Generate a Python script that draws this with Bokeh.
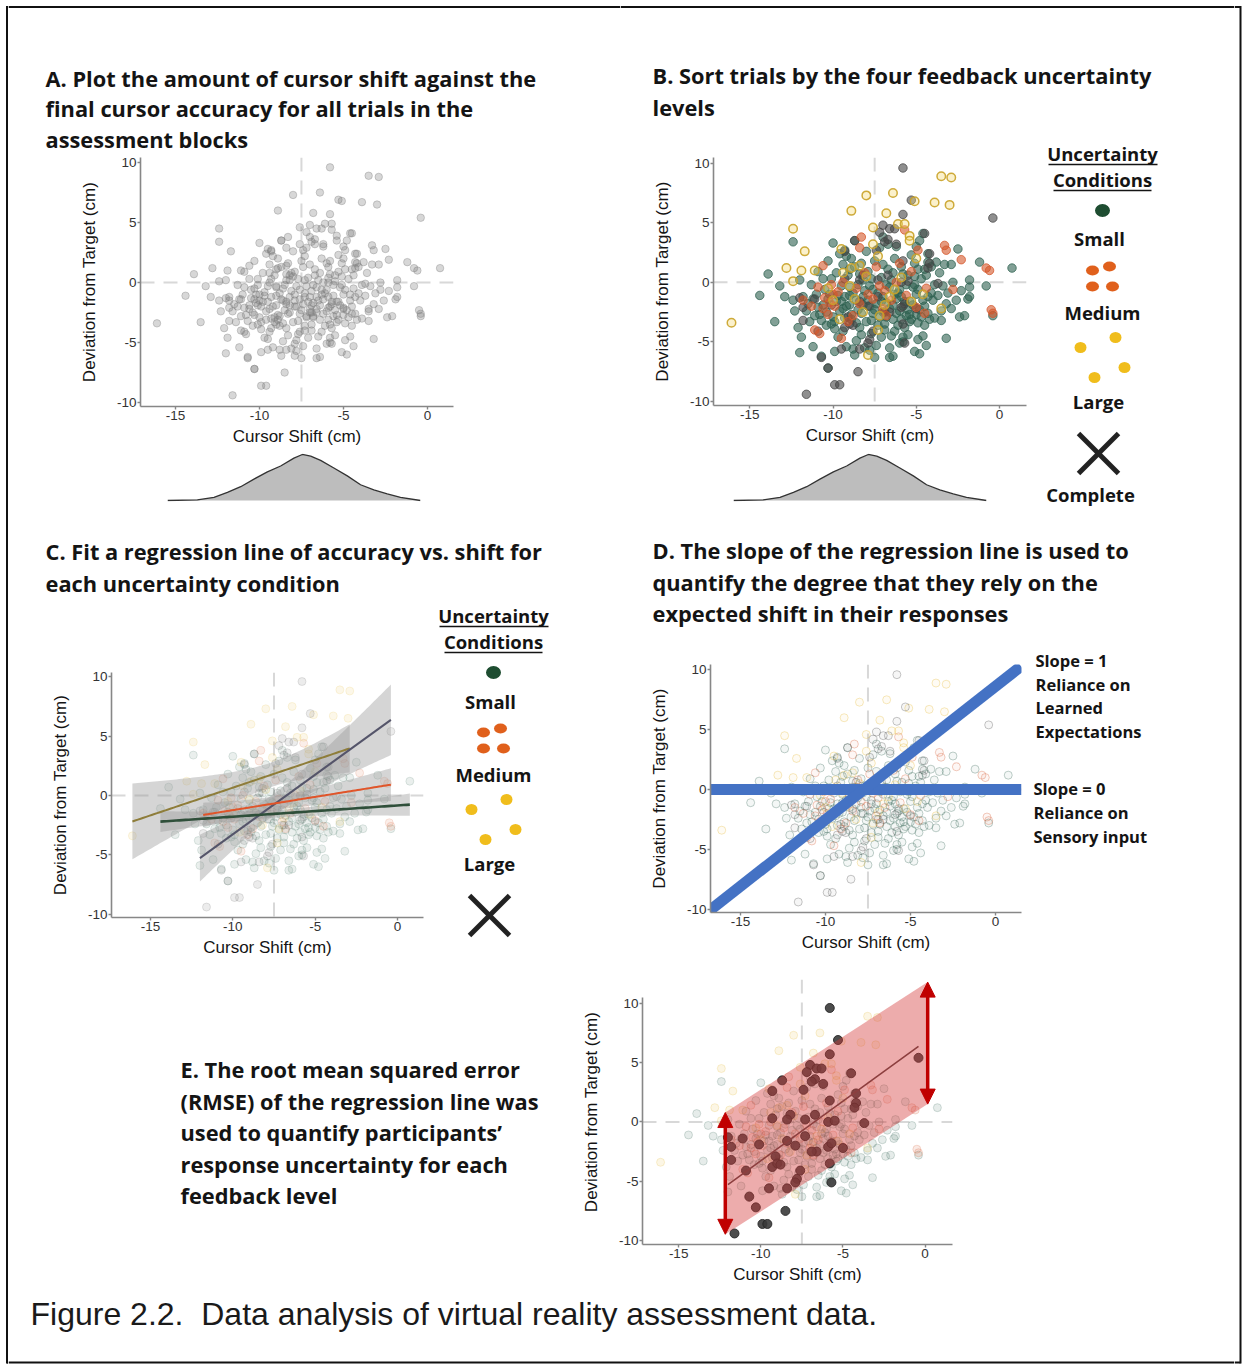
import numpy as np
from bokeh.plotting import figure
from bokeh.layouts import row, column
from bokeh.models import Range1d, Span, Arrow, NormalHead
from bokeh.core.properties import value
from bokeh.embed import file_html
from bokeh.resources import INLINE

# ---------------------------------------------------------------- data
shift_ticks = [-15, -10, -5, 0]
dev_ticks = [-10, -5, 0, 5, 10]
expected_shift = -7.5
zero_dev = 0.0

small_x = [
    -4.6, -8.7, -10.0, -12.4, -7.0, -4.8, -6.7, -2.5, -4.3, -9.3,
    -9.2, -4.3, -3.8, -3.3, -2.9, -1.2, 0.75, -13.9, -12.0, -13.2,
    -14.4, -13.5, -12.9, -12.4, -11.8, -12.3, -11.6, -12.1, -11.4, -11.9,
    -11.2, -12.0, -10.7, -10.3, -7.8, -5.8, -5.8, -5.1, -4.8, -4.4,
    -4.6, -5.4, -4.5, -3.5, -3.2, -2.4, -2.1, -1.8, -1.8, -0.8,
    -0.4, -1.8, -2.8, -3.4, -3.9, -2.3, -3.2, -3.5, -4.0, -2.6,
    -1.9,
    -10.5, -10.2, -9.8, -9.6, -9.3, -9.0, -8.8, -8.6, -8.3, -8.0,
    -7.8, -7.6, -7.4, -7.2, -7.0, -6.8, -6.6, -6.4, -6.2, -6.0,
    -5.8, -5.6, -5.4, -5.2, -5.0, -4.8, -4.6, -10.8, -10.4, -9.9,
    -9.5, -9.1, -8.7, -8.2, -7.9, -7.5, -7.1, -6.7, -6.3, -5.9,
    -5.5, -5.1, -4.7, -10.1, -11.0, -10.6, -9.4, -8.9, -8.4, -7.7,
    -7.3, -6.9, -6.5, -6.1, -5.7, -5.3, -4.9, -9.7, -9.2, -8.6,
    -8.1, -7.4, -6.4, -6.6, -8.7, -9.9, -6.0, -11.3, -10.9, -10.3,
    -9.6, -8.9, -8.0, -7.2, -6.5, -5.3, -4.9, -4.4, -4.1, -4.3,
    -3.9, -3.7, -3.1, -2.9, -3.6, -4.1, -5.0, -6.3, -7.6, -8.5,
    -9.3, -10.0, -10.7, -11.5, -11.1, -8.2, -7.0, -6.0, -5.5, -6.8,
    -7.9, -9.0, -5.9, -8.3, -6.2, -5.0, -9.4,
    -10.3, -9.7, -9.2, -8.9, -8.5, -8.1, -7.7, -7.3, -6.9, -6.6,
    -6.2, -5.9, -5.6, -5.2, -4.9, -4.5, -4.2, -10.9, -10.4, -9.9,
    -9.5, -9.0, -8.6, -8.2, -7.8, -7.5, -7.1, -6.8, -6.4, -6.1,
    -5.7, -5.4, -5.1, -4.7, -4.3, -10.6, -9.8, -9.0, -8.4, -7.7,
    -7.0, -6.4, -5.8, -5.1, -4.5, -11.2, -10.1, -9.4, -8.3, -7.1,
    -6.3, -5.5, -4.9, -8.8, -7.5, -6.6,
]
small_y = [
    4.1, 3.5, 3.3, 3.4, 3.8, 3.5, 3.2, 2.8, 2.4, 2.7,
    2.2, 1.7, 1.7, 1.5, 1.5, 1.7, 1.2, 0.7, 0.2, -0.3,
    -1.1, -3.3, -1.2, -1.5, -1.2, -2.4, -2.4, -3.8, -3.3, -4.6,
    -5.4, -5.9, -6.2, -7.2, -5.7, -4.6, -5.0, -5.8, -6.0, -5.3,
    -4.5, -3.3, -3.6, -3.2, -4.7, -2.9, -2.8, -1.2, -0.4, -0.3,
    -2.8, 0.2, 0.0, -0.3, -0.2, -0.7, -1.8, -2.4, -1.5, -1.5,
    -1.4,
    -0.6, -1.0, -1.6, -2.4, -3.0, -1.9, -0.9, -1.5, -2.6, -3.3,
    -2.0, -0.6, -1.8, -2.9, -1.2, -0.2, -2.2, -3.1, -1.4, -0.6,
    -2.0, -2.8, -1.6, -0.4, -1.0, -2.3, -1.5, -2.7, -3.6, -3.9,
    -0.3, 0.6, 1.3, 0.2, 0.9, 1.8, 0.4, 1.1, 2.0, 1.3,
    0.6, 1.6, 0.3, 0.3, -1.0, -1.9, -2.2, -2.7, -3.8, -4.3,
    -3.6, -4.0, -4.5, -3.6, -3.8, -3.1, -3.4, -4.6, -5.4, -4.9,
    -5.5, -5.3, -6.2, -6.3, -6.1, -5.8, -5.1, -0.2, 0.9, 1.8,
    2.4, 2.0, 2.6, 2.9, 0.2, 2.3, 1.1, 0.6, -0.9, -2.6,
    -3.0, -1.1, -0.9, -2.2, 0.8, 1.3, -2.7, -1.0, -2.6, -0.2,
    -1.2, -2.9, -3.2, -1.8, -2.8, -1.2, -2.5, -2.4, -2.3, -1.7,
    -1.5, -1.1, -1.2, 1.6, 3.0, 3.0, 1.5,
    -1.4, -1.1, -2.0, -3.1, -2.3, -0.7, -3.2, -0.9, -3.5, -0.4,
    -2.6, -3.1, -0.2, -1.9, -0.6, -2.0, -3.1, -2.1, -2.5, -3.3,
    -1.6, -0.4, -3.4, -1.9, -0.3, -2.3, -1.6, -2.9, -1.9, -0.9,
    -1.6, -2.7, -0.2, -2.9, -1.2, 0.3, 0.8, 1.1, 0.7, 0.3,
    1.5, 0.8, 0.7, 0.5, 1.1, -1.4, -3.5, -4.1, -4.4, -4.6,
    -4.1, -4.4, -4.8, -5.6, -6.3, -5.5,
]

medium_x = [
    -8.3, -8.4, -10.6, -9.4, -10.9, -10.5, -10.2, -9.9, -10.6, -10.0,
    -11.1, -10.8, -9.5, -8.8, -8.4, -7.2, -7.6, -6.9, -6.2, -5.6,
    -4.9, -5.0, -4.5, -3.3, -3.2, -2.3, -0.8, -0.6, -0.4, -0.5,
    -2.8, -5.7, -11.8, -9.7, -7.9, -7.0, -6.5, -8.1, -6.0, -5.3,
    -4.4, -9.1, -10.3, -6.8, -7.4, -11.3, -10.1, -8.6,
]
medium_y = [
    3.8, 2.9, 1.4, 0.0, -0.4, -1.3, -1.7, -2.0, -2.2, -1.0,
    -4.0, -4.3, -4.7, -2.8, -1.8, -0.3, -1.4, -0.7, 0.0, -1.1,
    2.7, -2.1, -2.6, 3.1, 2.7, 1.9, 1.2, 1.0, -2.6, -2.3,
    -0.6, 4.4, -1.5, -0.8, -1.0, -2.2, -1.5, 0.8, 1.6, 0.9,
    -0.5, -3.3, -2.7, -2.8, 1.3, -2.0, -0.2, -0.5,
]

large_x = [
    -16.1, -12.4, -11.7, -12.8, -11.9, -11.1, -12.4, -8.9, -8.0, -6.4,
    -6.8, -6.1, -5.7, -5.4, -5.4, -3.5, -2.9, -3.9, -3.0, -5.1,
    -7.6, -7.6, -9.5, -8.9, -8.4, -7.3, -7.9, -7.3, -3.5, -9.0,
    -10.0, -8.0, -6.9, -6.3, -5.0, -6.6, -8.2, -4.6, -9.4, -7.2,
    -5.9, -10.3, -9.6, -8.7, -5.3,
]
large_y = [
    -3.4, 4.5, 2.6, 1.2, 1.0, 1.0, 0.1, 6.0, 7.3, 7.5,
    5.8, 4.9, 4.9, 3.9, 3.5, 8.9, 8.8, 6.7, 6.5, 6.8,
    4.6, 3.2, 2.8, 1.2, 1.4, 2.2, -6.1, -4.0, -2.2, -0.3,
    -1.5, 0.5, -1.9, -0.6, 2.0, -1.2, -2.5, -1.0, 0.8, -2.8,
    0.4, -0.5, -3.1, -1.4, -1.6,
]

complete_x = [
    -5.8, -5.3, -0.4, -5.8, -7.0, -6.6, -6.3, -7.2, -6.7, -6.9,
    -6.2, -4.5, -8.7, -9.3, -7.4, -5.8, -4.2, -4.2, -4.3, -8.2,
    -6.7, -8.4, -9.3, -7.3, -5.9, -5.5, -3.7, -12.0, -11.8, -11.1,
    -11.8, -10.1, -8.4, -7.9, -7.3, -6.6, -6.9, -5.9, -5.7, -5.0,
    -5.8, -9.1, -9.3, -9.0, -8.8, -10.9, -7.6, -7.8, -7.9, -8.4,
    -9.5, -10.7, -10.3, -5.7, -8.5, -9.9, -9.6, -11.6,
]
complete_y = [
    9.6, 6.9, 5.4, 5.7, 4.8, 4.5, 4.5, 4.2, 3.6, 3.4,
    3.2, 4.1, 3.5, 2.6, 2.7, 1.8, 2.4, 1.6, 1.2, 0.6,
    0.6, 0.2, 0.3, 0.2, 0.0, 0.1, -0.1, -1.3, -2.1, -1.4,
    -3.2, -1.9, -1.6, -2.0, -1.2, -2.5, -2.5, -2.1, -1.8, -2.2,
    -3.5, -2.9, -3.8, -3.5, -3.6, -4.1, -4.1, -4.8, -5.1, -5.6,
    -5.6, -6.3, -7.2, -5.1, -7.5, -8.6, -8.6, -9.4,
]

# marginal density of cursor shift
density_x = [-15.49, -13.71, -12.72, -11.92, -11.13, -10.34, -9.54, -8.75, -7.96, -7.46,
             -6.96, -6.37, -5.58, -4.78, -3.99, -3.20, -2.40, -1.61, -0.42]
density_y = [0.0, 0.0015, 0.0070, 0.0177, 0.0298, 0.0462, 0.0617, 0.0745, 0.0915, 0.0994,
             0.0958, 0.0866, 0.0702, 0.0532, 0.0340, 0.0228, 0.0143, 0.0070, 0.0]

# illustrative slopes in panel D
slope_one_x = [-16.8, 1.5]
slope_one_y = [-10.1, 10.3]
slope_zero_y = [0.0, 0.0]

# RMSE envelope in panel E
rmse_x = [-12.16, 0.16]
rmse_upper = [0.79, 11.78]
rmse_lower = [-9.47, 1.5]

# ---------------------------------------------------------------- style
SANS = "Liberation Sans"
HEAD = "Open Sans"
INK = "#141414"
RED = "#c00000"
BLUE = "#4472c4"
FRAME = "#111111"

cond = {
    "Small": (small_x, small_y, "#2e6150"),
    "Medium": (medium_x, medium_y, "#d4562a"),
    "Large": (large_x, large_y, "#e3b52a"),
    "Complete": (complete_x, complete_y, "#454545"),
}
all_x = small_x + medium_x + large_x + complete_x
all_y = small_y + medium_y + large_y + complete_y


def solo(p):
    # each figure sits in its own row so neighbouring frames are not aligned
    return row(p)


def text_panel(w, h):
    p = figure(width=w, height=h, x_range=Range1d(0, w), y_range=Range1d(h, 0),
               x_axis_type=None, y_axis_type=None, toolbar_location=None,
               output_backend="svg", min_border=0, title=None)
    p.outline_line_color = None
    return p


def write(p, x, y0, lines, size, dy=0, font=HEAD, bold=True, align="left", color=INK):
    p.text(x=[x] * len(lines), y=[y0 + i * dy for i in range(len(lines))], text=lines,
           text_font=value(font), text_font_size=value(f"{size}px"),
           text_font_style=value("bold" if bold else "normal"),
           text_align=value(align), text_baseline=value("middle"), text_color=color)


def scatter_panel(w, h, xr, yr, left, right, top, bottom):
    p = figure(width=w, height=h, x_range=Range1d(*xr), y_range=Range1d(*yr),
               toolbar_location=None, output_backend="svg", title=None,
               min_border_left=left, min_border_right=right,
               min_border_top=top, min_border_bottom=bottom)
    p.grid.visible = False
    p.outline_line_color = None
    p.xaxis.ticker = shift_ticks
    p.yaxis.ticker = dev_ticks
    p.xaxis.major_label_overrides = {t: str(t) for t in shift_ticks}
    p.yaxis.major_label_overrides = {t: str(t) for t in dev_ticks}
    p.xaxis.axis_label = "Cursor Shift (cm)"
    p.yaxis.axis_label = "Deviation from Target (cm)"
    for ax in p.axis:
        ax.axis_line_color = "#878787"
        ax.axis_line_width = 1.6
        ax.major_tick_line_color = "#878787"
        ax.major_tick_line_width = 1.4
        ax.major_tick_out = 3
        ax.major_tick_in = 0
        ax.minor_tick_line_color = None
        ax.major_label_text_font = SANS
        ax.major_label_text_font_size = "13.5px"
        ax.major_label_text_color = "#333333"
        ax.major_label_standoff = 1
        ax.axis_label_text_font = SANS
        ax.axis_label_text_font_size = "17px"
        ax.axis_label_text_font_style = "normal"
        ax.axis_label_text_color = INK
    p.xaxis.axis_label_standoff = 4
    p.yaxis.axis_label_standoff = 15
    for loc, dim in ((expected_shift, "height"), (zero_dev, "width")):
        p.add_layout(Span(location=loc, dimension=dim, line_color="#d8d8d8",
                          line_width=2, line_dash="14 9", level="underlay"))
    return p


def density_panel(w, h, left, right):
    p = figure(width=w, height=h, x_range=Range1d(density_x[0], density_x[-1]),
               y_range=Range1d(-0.00213, 0.1015), x_axis_type=None, y_axis_type=None,
               toolbar_location=None, output_backend="svg", title=None,
               min_border_left=left, min_border_right=right,
               min_border_top=0, min_border_bottom=h - 48)
    p.outline_line_color = None
    p.varea(x=density_x, y1=[0] * len(density_x), y2=density_y, fill_color="#bdbdbd")
    p.line(density_x, density_y, line_color="#333333", line_width=1.3)
    return p


def faint_points(p, fill_alpha, line_alpha, names=("Small", "Medium", "Large", "Complete")):
    for n in names:
        xs, ys, c = cond[n]
        p.scatter(xs, ys, size=8, fill_color=c, fill_alpha=fill_alpha,
                  line_color=c, line_alpha=line_alpha)


def ols_band(xs, ys, npts=80):
    x = np.asarray(xs, float)
    y = np.asarray(ys, float)
    b, a = np.polyfit(x, y, 1)
    grid = np.linspace(x.min(), x.max(), npts)
    fit = a + b * grid
    resid = y - (a + b * x)
    s = np.sqrt((resid ** 2).sum() / (len(x) - 2))
    sxx = ((x - x.mean()) ** 2).sum()
    se = s * np.sqrt(1.0 / len(x) + (grid - x.mean()) ** 2 / sxx)
    return grid, fit, fit - 1.98 * se, fit + 1.98 * se


def legend_panel(w, h, cx, items_y, with_complete_label):
    p = text_panel(w, h)
    uy, cy, dot_y, small_y0, med_y, large_y0, x_y, comp_y = items_y
    write(p, cx, uy, ["Uncertainty"], 18.5, align="center")
    write(p, cx, cy, ["Conditions"], 18.5, align="center")
    p.segment(x0=[cx - 54, cx - 49], y0=[uy + 11, cy + 11], x1=[cx + 55, cx + 49],
              y1=[uy + 11, cy + 11], line_color=INK, line_width=1.6)
    p.ellipse(x=[cx], y=[dot_y], width=15, height=13, fill_color="#1e4d31", line_color=None)
    write(p, cx - 3, small_y0, ["Small"], 18.5, align="center")
    p.ellipse(x=[cx - 10, cx + 7, cx - 10, cx + 10], y=[med_y - 16, med_y - 20, med_y, med_y],
              width=13, height=10, fill_color="#e0601c", line_color=None)
    write(p, cx, med_y + 26, ["Medium"], 18.5, align="center")
    p.ellipse(x=[cx - 22, cx + 13, cx + 22, cx - 8],
              y=[large_y0 - 54, large_y0 - 64, large_y0 - 34, large_y0 - 24],
              width=12, height=11, fill_color="#f0bd1c", line_color=None)
    write(p, cx - 4, large_y0, ["Large"], 18.5, align="center")
    xm = cx - 4
    p.segment(x0=[xm - 20, xm - 20], y0=[x_y - 20, x_y + 20], x1=[xm + 20, xm + 20],
              y1=[x_y + 20, x_y - 20], line_color="#222222", line_width=5)
    if with_complete_label:
        write(p, cx - 12, comp_y, ["Complete"], 18.5, align="center")
    return p


TITLE = 21.8

# ---------------------------------------------------------------- panel A
a_title = text_panel(612, 154)
a_title.line([0, 612], [6.5, 6.5], line_color=FRAME, line_width=2)
write(a_title, 37, 77.5, ["A. Plot the amount of cursor shift against the",
                          "final cursor accuracy for all trials in the",
                          "assessment blocks"], TITLE, dy=30.8)
a_plot = scatter_panel(612, 299, (-17.08, 1.55), (-10.33, 10.42), 132, 167, 3, 47)
a_plot.scatter(all_x, all_y, size=7.5, fill_color="#7a7a7a", fill_alpha=0.3,
               line_color="#7a7a7a", line_alpha=0.35)
a_dens = density_panel(612, 67, 159, 200)
a_block = column(solo(a_title), solo(a_plot), solo(a_dens))

# ---------------------------------------------------------------- panel B
b_title = text_panel(614, 138)
b_title.line([0, 614], [6.5, 6.5], line_color=FRAME, line_width=2)
write(b_title, 32, 75, ["B. Sort trials by the four feedback uncertainty", "levels"], TITLE, dy=32)
b_plot = scatter_panel(420, 315, (-17.18, 1.62), (-10.34, 10.48), 93, 14, 19, 48)
for n in ("Small", "Complete", "Medium"):
    xs, ys, c = cond[n]
    b_plot.scatter(xs, ys, size=8.5, fill_color=c, fill_alpha=0.6, line_color=c, line_alpha=0.75)
b_plot.scatter(large_x, large_y, size=8.5, fill_color="#f3d66e", fill_alpha=0.35,
               line_color="#c9a227", line_alpha=0.9, line_width=1.5)
b_dens = density_panel(420, 67, 113, 54)
b_leg = legend_panel(194, 382, 62, (15, 41, 72, 100, 148, 263, 315, 356), True)
b_block = column(solo(b_title), row(column(solo(b_plot), solo(b_dens)), solo(b_leg)))

# ---------------------------------------------------------------- panel C
c_title = text_panel(612, 80)
write(c_title, 37, 31, ["C. Fit a regression line of accuracy vs. shift for",
                        "each uncertainty condition"], TITLE, dy=32)
c_plot = scatter_panel(430, 375, (-17.37, 1.58), (-10.28, 10.36), 103, 15, 72, 58)
faint_points(c_plot, 0.1, 0.14)
line_colors = {"Large": "#8e7d3a", "Medium": "#e0552a", "Small": "#2f4f3a", "Complete": "#55556a"}
fits = {n: ols_band(cond[n][0], cond[n][1]) for n in ("Large", "Complete", "Medium", "Small")}
for n, (gx, fit, lo, hi) in fits.items():
    c_plot.varea(x=gx, y1=lo, y2=hi, fill_color="#9a9a9a", fill_alpha=0.42)
for n, (gx, fit, lo, hi) in fits.items():
    c_plot.line(gx, fit, line_color=line_colors[n], line_width=2.6 if n == "Small" else 2)
c_leg = legend_panel(182, 375, 55, (15, 41, 72, 101, 148, 263, 315, 0), False)
c_block = column(solo(c_title), row(solo(c_plot), solo(c_leg)))

# ---------------------------------------------------------------- panel D
d_title = text_panel(614, 110)
write(d_title, 32, 30, ["D. The slope of the regression line is used to",
                        "quantify the degree that they rely on the",
                        "expected shift in their responses"], TITLE, dy=31.5)
d_plot = scatter_panel(410, 345, (-16.76, 1.53), (-10.28, 10.45), 90, 9, 34, 63)
faint_points(d_plot, 0.05, 0.3)
d_plot.line([-16.76, 1.53], slope_zero_y, line_color=BLUE, line_width=11)
d_plot.line(slope_one_x, slope_one_y, line_color=BLUE, line_width=11)
d_ann = text_panel(204, 345)
write(d_ann, 5, 30, ["Slope = 1", "Reliance on", "Learned", "Expectations"], 16.5, dy=23.5)
write(d_ann, 3, 158, ["Slope = 0", "Reliance on", "Sensory input"], 16.5, dy=24)
d_block = column(solo(d_title), row(solo(d_plot), solo(d_ann)))

# ---------------------------------------------------------------- panel E
e_text = text_panel(570, 315)
write(e_text, 172, 94, ["E. The root mean squared error",
                        "(RMSE) of the regression line was",
                        "used to quantify participants\u2019",
                        "response uncertainty for each",
                        "feedback level"], TITLE, dy=31.5)
e_plot = scatter_panel(382, 315, (-17.2, 1.67), (-10.33, 12.0), 61, 8, 4, 46)
e_plot.yaxis.bounds = (-10.33, 10.45)
faint_points(e_plot, 0.12, 0.2, names=("Small", "Medium", "Large"))
e_plot.scatter(complete_x, complete_y, size=9, fill_color="#3a3a3a", fill_alpha=0.9,
               line_color="#262626", line_alpha=0.9)
gx, fit, lo, hi = fits["Complete"]
e_plot.line(gx, fit, line_color="#5a4444", line_width=1.6)
e_plot.patch(x=[rmse_x[0], rmse_x[1], rmse_x[1], rmse_x[0]],
             y=[rmse_upper[0], rmse_upper[1], rmse_lower[1], rmse_lower[0]],
             fill_color="#d43a3a", fill_alpha=0.42, line_color=None)
for i in range(2):
    e_plot.add_layout(Arrow(
        start=NormalHead(size=15, fill_color=RED, line_color=RED),
        end=NormalHead(size=15, fill_color=RED, line_color=RED),
        x_start=rmse_x[i], y_start=rmse_lower[i], x_end=rmse_x[i], y_end=rmse_upper[i],
        line_color=RED, line_width=3.5))
e_pad = text_panel(274, 315)

# ---------------------------------------------------------------- caption & frame
caption = text_panel(1226, 75)
write(caption, 22, 23, ["Figure 2.2.\u00a0 Data analysis of virtual reality assessment data."],
      32, font=SANS, bold=False, color="#1a1a1a")
caption.line([0, 1226], [72, 72], line_color=FRAME, line_width=2)

left = text_panel(8, 1365)
left.line([6.5, 6.5], [5.5, 1363], line_color=FRAME, line_width=2)
left.line([6.5, 8], [6.5, 6.5], line_color=FRAME, line_width=2)
left.line([6.5, 8], [1362, 1362], line_color=FRAME, line_width=2)
right = text_panel(8, 1365)
right.line([6, 6], [5.5, 1363], line_color=FRAME, line_width=2)
right.line([0, 6], [6.5, 6.5], line_color=FRAME, line_width=2)
right.line([0, 6], [1362, 1362], line_color=FRAME, line_width=2)

content = column(row(a_block, b_block), row(c_block, d_block),
                 row(solo(e_text), solo(e_plot), solo(e_pad)), solo(caption))
page = row(solo(left), content, solo(right))

with open("out.html", "w") as f:
    f.write(file_html(page, INLINE, title="Figure 2.2"))
